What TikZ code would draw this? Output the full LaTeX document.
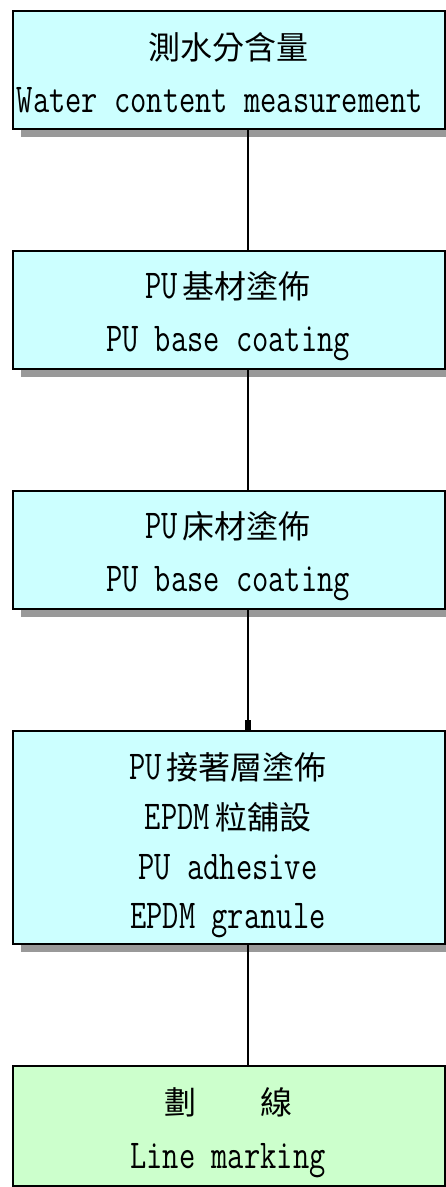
\documentclass[tikz,border=0pt]{standalone}
\usepackage{fontspec}
\usepackage{graphicx}
\newfontfamily\cjk{Noto Sans CJK TC}
\newcommand\E[1]{\scalebox{0.77}[1]{\ttfamily\fontsize{41}{41}\selectfont #1}}
\usetikzlibrary{shadows}
\definecolor{boxcyan}{HTML}{CCFFFF}
\definecolor{boxgreen}{HTML}{CCFFCC}
\begin{document}
\begin{tikzpicture}[x=1pt,y=-1pt,
  stepbox/.style={draw=black, line width=2pt, fill=boxcyan, minimum width=432pt, inner sep=0pt, anchor=north west,
    drop shadow={shadow xshift=8pt, shadow yshift=-8pt, fill=black!40, opacity=1}},
  zh/.style={font={\cjk\fontsize{32}{32}\selectfont}, anchor=base, inner sep=0pt},
  en/.style={anchor=base, inner sep=0pt},
  link/.style={line width=1.6pt}]
\useasboundingbox (0,0) rectangle (446,1187);
\node[stepbox, minimum height=118pt] (b1) at (12,10) {};
\node[stepbox, minimum height=118pt] (b2) at (12,250) {};
\node[stepbox, minimum height=118pt] (b3) at (12,490) {};
\node[stepbox, minimum height=213pt] (b4) at (12,730) {};
\node[stepbox, minimum height=120pt, fill=boxgreen] (b5) at (12,1065) {};
\node[zh] (t1a) at (228,59) {測水分含量};
\node[en] (t1b) at (220,112) {\E{Water content measurement}};
\node[zh] (t2a) at (228,298) {\E{PU}\,基材塗佈};
\node[en] (t2b) at (228,351) {\E{PU base coating}};
\node[zh] (t3a) at (228,538) {\E{PU}\,床材塗佈};
\node[en] (t3b) at (228,591) {\E{PU base coating}};
\node[zh] (t4a) at (228,779) {\E{PU}\,接著層塗佈};
\node[zh] (t4b) at (228,829) {\E{EPDM}\,粒舖設};
\node[en] (t4c) at (228,879) {\E{PU adhesive}};
\node[en] (t4d) at (228,928) {\E{EPDM granule}};
\node[zh] (t5a) at (228,1114) {劃　　線};
\node[en] (t5b) at (228,1168) {\E{Line marking}};
\draw[link] ([xshift=19pt]b1.south) -- ([xshift=19pt]b2.north);
\draw[link] ([xshift=19pt]b2.south) -- ([xshift=19pt]b3.north);
\draw[link] ([xshift=19pt]b3.south) -- ([xshift=19pt]b4.north);
\draw[line width=6pt] ([xshift=19pt,yshift=10pt]b4.north) -- ([xshift=19pt]b4.north);
\draw[link] ([xshift=19pt]b4.south) -- ([xshift=19pt]b5.north);
\end{tikzpicture}
\end{document}
